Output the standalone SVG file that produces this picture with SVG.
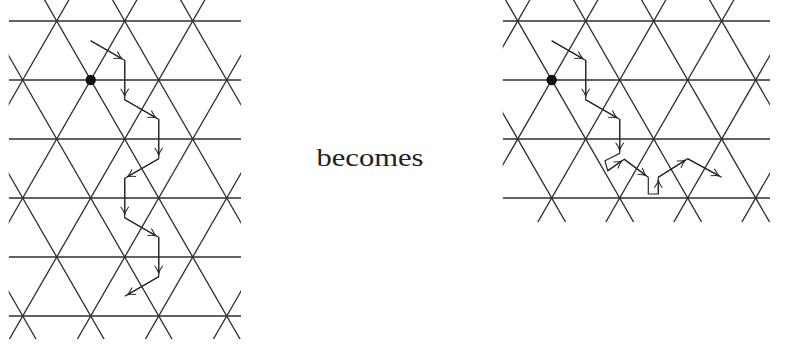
<svg xmlns="http://www.w3.org/2000/svg" xmlns:xlink="http://www.w3.org/1999/xlink" width="791" height="347" viewBox="0 0 791 347">
<style>
.lat line { stroke: #2e2e2e; stroke-width: 1.3; fill: none; }
.walk { stroke: #2a2a2a; stroke-width: 1.2; fill: none; stroke-linejoin: miter; }
.arr { stroke: #2a2a2a; stroke-width: 1.2; fill: none; marker-end: url(#ah); }
.lbl { font-family: "Liberation Serif", "DejaVu Serif", serif; font-size: 25px; fill: #222; }
</style>
<defs>
<marker id="ah" markerUnits="userSpaceOnUse" orient="auto" overflow="visible" markerWidth="10" markerHeight="10" refX="0" refY="0" viewBox="-8 -5 10 10">
<path d="M -7.5,-4 Q -3,-0.8 0,0 Q -3,0.8 -7.5,4" fill="none" stroke="#2a2a2a" stroke-width="1.1"/>
</marker>
<clipPath id="clipL"><rect x="8.7" y="-2" width="232.3" height="341"/></clipPath>
<clipPath id="clipR"><rect x="502.7" y="-2" width="267.3" height="224"/></clipPath>
<g id="diag" stroke="#2e2e2e" stroke-width="1.3" fill="none">
<path d="M90.7,-38 L-181.3,434"/>
<path d="M158.7,-38 L-113.3,434"/>
<path d="M226.7,-38 L-45.3,434"/>
<path d="M294.7,-38 L22.7,434"/>
<path d="M362.7,-38 L90.7,434"/>
<path d="M430.7,-38 L158.7,434"/>
<path d="M-181.3,-38 L90.7,434"/>
<path d="M-113.3,-38 L158.7,434"/>
<path d="M-45.3,-38 L226.7,434"/>
<path d="M22.7,-38 L294.7,434"/>
<path d="M90.7,-38 L362.7,434"/>
<path d="M158.7,-38 L430.7,434"/>
<path d="M226.7,-38 L498.7,434"/>
</g>
</defs>

<g id="lattice-left" class="lat" clip-path="url(#clipL)">
<line x1="8.7" y1="21" x2="241" y2="21"/>
<line x1="8.7" y1="80" x2="241" y2="80"/>
<line x1="8.7" y1="139" x2="241" y2="139"/>
<line x1="8.7" y1="198" x2="241" y2="198"/>
<line x1="8.7" y1="257" x2="241" y2="257"/>
<line x1="8.7" y1="316" x2="241" y2="316"/>
<use xlink:href="#diag"/>
</g>

<g id="lattice-right" class="lat" clip-path="url(#clipR)">
<line x1="502.7" y1="21" x2="770" y2="21"/>
<line x1="502.7" y1="80" x2="770" y2="80"/>
<line x1="502.7" y1="139" x2="770" y2="139"/>
<line x1="502.7" y1="198" x2="770" y2="198"/>
<use xlink:href="#diag" transform="translate(461,0)"/>
</g>

<g id="origin-left"><circle cx="90.7" cy="80" r="5.2" fill="#111"/></g>
<g id="origin-right"><circle cx="551.7" cy="80" r="5.2" fill="#111"/></g>

<g id="walk-left">
<polyline class="walk" points="90.7,40.67 124.7,60.33 124.7,99.67 158.7,119.33 158.7,158.67 124.7,178.33 124.7,217.67 158.7,237.33 158.7,276.67 124.7,296.33"/>
<path class="arr" d="M90.7,40.67 L121.9,58.8"/>
<path class="arr" d="M124.7,60.33 L124.7,96.2"/>
<path class="arr" d="M124.7,99.67 L155.9,117.8"/>
<path class="arr" d="M158.7,119.33 L158.7,155.2"/>
<path class="arr" d="M158.7,158.67 L127.5,176.8"/>
<path class="arr" d="M124.7,178.33 L124.7,214.2"/>
<path class="arr" d="M124.7,217.67 L155.9,235.8"/>
<path class="arr" d="M158.7,237.33 L158.7,273.2"/>
<path class="arr" d="M158.7,276.67 L127.5,294.8"/>
</g>

<g id="walk-right">
<polyline class="walk" points="551.7,40.67 585.7,60.33 585.7,99.67 619.7,119.33 619.7,153.3 605,160.7 607.7,170.7 624.3,159.3 648.3,177.3 648.3,194 658.3,194 658.3,177.3 687.7,158.7 721.7,177.3"/>
<path class="arr" d="M551.7,40.67 L582.9,58.8"/>
<path class="arr" d="M585.7,60.33 L585.7,96.2"/>
<path class="arr" d="M585.7,99.67 L616.9,117.8"/>
<path class="arr" d="M619.7,119.33 L619.7,150.3"/>
<path class="arr" d="M607.7,170.7 L621.8,161.0"/>
<path class="arr" d="M624.3,159.3 L645.9,175.5"/>
<path class="arr" d="M658.3,194 L658.3,180.3"/>
<path class="arr" d="M658.3,177.3 L685.2,160.3"/>
<path class="arr" d="M687.7,158.7 L719.1,175.9"/>
</g>

<text class="lbl" x="370" y="166" text-anchor="middle" textLength="107" lengthAdjust="spacingAndGlyphs">becomes</text>
</svg>
